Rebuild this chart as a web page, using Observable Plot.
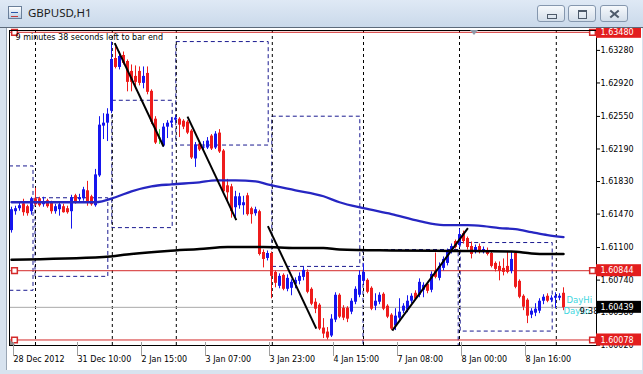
<!DOCTYPE html>
<html><head><meta charset="utf-8">
<script src="https://cdn.jsdelivr.net/npm/d3@7"></script>
<script src="https://cdn.jsdelivr.net/npm/@observablehq/plot@0.6"></script>
<style>
html,body{margin:0;padding:0;}
body{width:643px;height:374px;overflow:hidden;position:relative;background:#d8e3ef;}
#titlebar{position:absolute;left:0;top:0;width:643px;height:28px;background:linear-gradient(#dfe9f5,#cad9ea);z-index:5;border-bottom:1px solid #5c6a7a;box-sizing:border-box;}
#title{position:absolute;left:28px;top:5px;font:11.5px "Noto Sans",sans-serif;color:#1b1b1b;}
#icon{position:absolute;left:8px;top:6px;width:12px;height:11px;border:1px solid #6a7f99;background:linear-gradient(#ffffff,#b9cde4);}
#icon:after{content:"";position:absolute;left:2px;top:5px;width:7px;height:3px;border-top:1px solid #2b57a8;border-bottom:1px solid #c23a3a;}
.btn{position:absolute;top:5px;width:28px;height:17px;border:1px solid #8597ae;border-radius:3px;background:linear-gradient(#f6f9fc,#d3deea);box-sizing:border-box;}
#b1{left:537px}#b2{left:568px}#b3{left:600px}
#b1:after{content:"";position:absolute;left:9px;top:8px;width:8px;height:3px;border:1px solid #4d5a6a;}
#b2:after{content:"";position:absolute;left:9px;top:4px;width:7px;height:6px;border:1px solid #4d5a6a;border-top-width:2px;}
.x1,.x2{position:absolute;left:8px;top:7px;width:11px;height:2px;background:#4d5a6a;}
.x1{transform:rotate(40deg)}.x2{transform:rotate(-40deg)}
#client{position:absolute;left:6px;top:28px;width:635px;height:342px;background:#fff;border-left:1px solid #9aa6b4;}
#chart{position:absolute;left:0;top:0;z-index:2;}
#shift{position:absolute;left:470px;top:30px;width:0;height:0;border-left:4px solid transparent;border-right:4px solid transparent;border-top:5px solid #8e99a8;z-index:3;}
#corner{position:absolute;left:10px;top:340px;width:0;height:0;border-left:5px solid #8e8e8e;border-top:5px solid transparent;z-index:3;}
</style></head>
<body>
<div id="titlebar"><div id="icon"></div><div id="title">GBPUSD,H1</div>
<div class="btn" id="b1"></div><div class="btn" id="b2"></div><div class="btn" id="b3"><div class="x1"></div><div class="x2"></div></div></div>
<div id="client"></div>
<div id="chart"></div>
<div id="shift"></div><div id="corner"></div>
<script>
// ---- OHLC data (hourly bars, index 0 = 28 Dec 2012 18:00) ----
const open = [
1.61282,1.61491,1.61524,1.61579,1.61546,1.61491,1.61634,1.61634,1.61568,1.61612,
1.61590,1.61491,1.61513,1.61546,1.61524,1.61491,1.61667,1.61623,1.61634,1.61722,
1.61656,1.61557,1.61887,1.62437,1.62470,1.62602,1.63185,1.63086,1.63218,1.63152,
1.63042,1.62987,1.63042,1.62910,1.63020,1.62822,1.62514,1.62305,1.62217,1.62426,
1.62470,1.62503,1.62514,1.62492,1.62481,1.62382,1.62074,1.62239,1.62195,1.62195,
1.62327,1.62195,1.62360,1.62162,1.61777,1.61766,1.61535,1.61557,1.61557,1.61667,
1.61524,1.61469,1.61491,1.61040,1.60974,1.61029,1.60820,1.60666,1.60787,1.60633,
1.60644,1.60688,1.60721,1.60765,1.60820,1.60633,1.60490,1.60457,1.60204,1.60160,
1.60116,1.60292,1.60567,1.60424,1.60424,1.60380,1.60490,1.60567,1.60721,1.60732,
1.60644,1.60446,1.60490,1.60578,1.60446,1.60347,1.60226,1.60314,1.60391,1.60402,
1.60501,1.60589,1.60567,1.60622,1.60688,1.60622,1.60831,1.60754,1.60864,1.60919,
1.61051,1.61161,1.61117,1.61249,1.61194,1.61106,1.61051,1.61106,1.61051,1.61062,
1.61029,1.60919,1.60886,1.60864,1.60886,1.60831,1.61029,1.60721,1.60556,1.60512,
1.60347,1.60369,1.60391,1.60501,1.60556,1.60512,1.60534,1.60534,1.60589];
const high = [
1.61546,1.61557,1.61601,1.61634,1.61568,1.61656,1.61755,1.61656,1.61656,1.61634,
1.61612,1.61579,1.61601,1.61579,1.61557,1.61678,1.61689,1.61689,1.61766,1.61832,
1.61678,1.61964,1.62547,1.62580,1.62635,1.63372,1.63317,1.63262,1.63262,1.63174,
1.63119,1.63108,1.63097,1.63097,1.63097,1.62844,1.62547,1.62404,1.62470,1.62503,
1.62536,1.62558,1.62536,1.62514,1.62503,1.62404,1.62261,1.62261,1.62272,1.62316,
1.62349,1.62382,1.62404,1.62184,1.61854,1.61799,1.61722,1.61700,1.61667,1.61700,
1.61546,1.61546,1.61513,1.61073,1.61062,1.61051,1.60842,1.60809,1.60809,1.60798,
1.60743,1.60765,1.60820,1.60886,1.60853,1.60655,1.60534,1.60479,1.60314,1.60215,
1.60358,1.60600,1.60589,1.60457,1.60446,1.60534,1.60666,1.60842,1.60919,1.60754,
1.60666,1.60589,1.60600,1.60600,1.60468,1.60369,1.60424,1.60534,1.60479,1.60567,
1.60589,1.60622,1.60754,1.60710,1.60710,1.60831,1.61040,1.60930,1.60996,1.61084,
1.61139,1.61183,1.61304,1.61282,1.61216,1.61161,1.61128,1.61139,1.61106,1.61095,
1.61051,1.60941,1.60941,1.60974,1.61051,1.61051,1.61051,1.60743,1.60578,1.60534,
1.60424,1.60479,1.60534,1.60578,1.60589,1.60567,1.60600,1.60589,1.60655];
const low = [
1.61260,1.61458,1.61502,1.61447,1.61447,1.61458,1.61557,1.61546,1.61546,1.61535,
1.61469,1.61469,1.61447,1.61480,1.61469,1.61304,1.61579,1.61601,1.61612,1.61557,
1.61557,1.61546,1.61876,1.62294,1.62272,1.62580,1.63075,1.63064,1.63119,1.62822,
1.62822,1.62855,1.62888,1.62855,1.62789,1.62459,1.62239,1.62239,1.62206,1.62305,
1.62426,1.62481,1.62316,1.62404,1.62349,1.62074,1.61986,1.62162,1.62173,1.62184,
1.62173,1.62184,1.62140,1.61700,1.61612,1.61425,1.61414,1.61524,1.61458,1.61447,
1.61359,1.61447,1.61007,1.60875,1.60952,1.60534,1.60655,1.60644,1.60622,1.60611,
1.60567,1.60644,1.60688,1.60732,1.60589,1.60457,1.60369,1.60182,1.60094,1.60078,
1.60105,1.60270,1.60314,1.60292,1.60270,1.60358,1.60468,1.60545,1.60688,1.60589,
1.60402,1.60402,1.60468,1.60402,1.60314,1.60182,1.60182,1.60292,1.60369,1.60380,
1.60479,1.60512,1.60545,1.60545,1.60589,1.60600,1.60754,1.60732,1.60842,1.60897,
1.61029,1.61084,1.61095,1.61139,1.61073,1.60974,1.61029,1.61029,1.61029,1.61007,
1.60875,1.60831,1.60732,1.60787,1.60809,1.60809,1.60644,1.60534,1.60402,1.60259,
1.60314,1.60336,1.60369,1.60468,1.60490,1.60490,1.60424,1.60512,1.60402];
const close = [
1.61524,1.61535,1.61568,1.61491,1.61480,1.61645,1.61579,1.61568,1.61612,1.61557,
1.61502,1.61557,1.61579,1.61491,1.61491,1.61656,1.61601,1.61656,1.61744,1.61601,
1.61579,1.61909,1.62459,1.62481,1.62580,1.63185,1.63097,1.63218,1.63141,1.62932,
1.62932,1.62932,1.62921,1.62998,1.62822,1.62492,1.62261,1.62305,1.62437,1.62481,
1.62503,1.62536,1.62459,1.62437,1.62371,1.62096,1.62239,1.62184,1.62217,1.62283,
1.62195,1.62360,1.62162,1.61722,1.61711,1.61502,1.61667,1.61667,1.61601,1.61469,
1.61469,1.61524,1.61029,1.60974,1.61040,1.60787,1.60710,1.60787,1.60644,1.60765,
1.60721,1.60743,1.60787,1.60853,1.60611,1.60479,1.60424,1.60204,1.60149,1.60105,
1.60314,1.60578,1.60336,1.60325,1.60314,1.60512,1.60644,1.60798,1.60831,1.60611,
1.60424,1.60512,1.60578,1.60424,1.60336,1.60204,1.60347,1.60391,1.60457,1.60512,
1.60567,1.60534,1.60721,1.60688,1.60622,1.60809,1.60776,1.60897,1.60974,1.61062,
1.61117,1.61106,1.61249,1.61172,1.61106,1.61029,1.61106,1.61051,1.61084,1.61029,
1.60897,1.60864,1.60842,1.60831,1.60831,1.60974,1.60666,1.60556,1.60446,1.60347,
1.60402,1.60424,1.60512,1.60556,1.60512,1.60545,1.60567,1.60567,1.60439];

// ---- moving averages (sampled at bar indices) ----
const maBlueIdx = [0,21,26,30,35,40,47,51,56,61,64,71,78,82,88,95,102,108,114,118,122,126,130,134,138];
const maBlueVal = [1.61601,1.61601,1.61656,1.61722,1.61777,1.61799,1.61821,1.61843,1.61843,1.61832,1.61799,1.61733,1.61667,1.61601,1.61535,1.61469,1.61392,1.61348,1.61348,1.61337,1.61315,1.61304,1.61271,1.61238,1.61216];
const maBlackIdx = [0,23,30,39,47,54,63,71,78,82,95,110,125,130,134,138];
const maBlackVal = [1.60966,1.60995,1.61029,1.61062,1.61084,1.61106,1.61106,1.61095,1.61095,1.61079,1.61068,1.61062,1.61057,1.61035,1.61029,1.61029];

// ---- trend lines ----
const trendX1 = [25.8, 44, 64.1, 95.2];
const trendY1 = [1.63361, 1.62547, 1.61337, 1.60182];
const trendX2 = [38, 56.2, 76.2, 114.1];
const trendY2 = [1.62217, 1.61403, 1.60204, 1.61315];

// ---- day boxes ----
const boxX1 = [-0.5, 6, 25.2, 41.2, 65.2, 88, 112.3];
const boxX2 = [5.5, 24.2, 40.3, 64.3, 87.2, 111.8, 135.3];
const boxTop = [1.61997, 1.61645, 1.62723, 1.63372, 1.62547, 1.61073, 1.61150];
const boxBot = [1.60622, 1.60776, 1.61315, 1.62228, 1.60886, 1.59940, 1.60171];

// ---- period separators ----
const sepIdx = [6, 25.2, 41.2, 65.2, 88, 112, 136.2];

// ---- levels ----
const redLevels = [1.63480, 1.60844, 1.60078];
const bidLevel = 1.60439;

// ---- axes ----
const yTicks = [1.63280,1.62920,1.62550,1.62190,1.61830,1.61470,1.61100,1.60740,1.60380,1.60020];
const xTickIdx = [0,16,32,48,64,80,96,112,128];
const xTickLabels = ["28 Dec 2012","31 Dec 10:00","2 Jan 15:00","3 Jan 07:00","3 Jan 23:00","4 Jan 15:00","7 Jan 08:00","8 Jan 00:00","8 Jan 16:00"];

// ---- texts ----
const timerText = "9 minutes 38 seconds left to bar end";
const sideText = ["DayHi","DayLo","9:38"];
const sideIdx = [138.75, 138, 142];
const sidePrice = [1.60515, 1.60393, 1.60393];
const sideColor = ["#3fd6e0","#3fd6e0","#000000"];

const UP="#1616ee", DOWN="#ee1c1c", FLAT="#44dd44";
const bars = open.map((o,i)=>({i, open:o, high:high[i], low:low[i], close:close[i],
  c: close[i]>o?UP:(close[i]<o?DOWN:FLAT)}));
const maBlue = maBlueIdx.map((x,k)=>({x, y:maBlueVal[k]}));
const maBlack = maBlackIdx.map((x,k)=>({x, y:maBlackVal[k]}));
const trends = trendX1.map((x,k)=>({x1:x, y1:trendY1[k], x2:trendX2[k], y2:trendY2[k]}));
const boxes = boxX1.map((x,k)=>({x1:x, x2:boxX2[k], y1:boxTop[k], y2:boxBot[k]}));
const tickMap = new Map(xTickIdx.map((d,k)=>[d, xTickLabels[k]]));
const priceLabels = [
  {v:redLevels[0], c:"#e31e1e"},{v:redLevels[1], c:"#e31e1e"},
  {v:bidLevel, c:"#000000"},{v:redLevels[2], c:"#e31e1e"}];
const side = sideText.map((t,k)=>({t, x:sideIdx[k], y:sidePrice[k], c:sideColor[k]}));
const xHi = 146.25;
const FONT = "DejaVu Sans";

const chart = Plot.plot({
  width: 643, height: 374,
  marginTop: 30, marginBottom: 29, marginLeft: 9, marginRight: 47,
  style: {background: "transparent", fontFamily: FONT, fontSize: "8px", color: "#000", overflow: "visible"},
  x: {domain: [-0.5, xHi], label: null},
  y: {domain: [1.60017, 1.63500], label: null},
  color: {type: "identity"},
  marks: [
    Plot.rect(boxes, {x1:"x1", x2:"x2", y1:"y1", y2:"y2", fill:"none", stroke:"#1a1a90", strokeDasharray:"4,3", clip:true}),
    Plot.ruleX(sepIdx, {stroke:"#000", strokeDasharray:"3,3"}),
    Plot.ruleY(redLevels, {stroke:"#d42a2a"}),
    Plot.ruleY([bidLevel], {stroke:"#a9a9a9"}),
    Plot.ruleX(bars, {x:"i", y1:"low", y2:"high", stroke:"c"}),
    Plot.ruleX(bars, {x:"i", y1:"open", y2:"close", stroke:"c", strokeWidth:3, insetTop:-0.5, insetBottom:-0.5}),
    Plot.line(maBlack, {x:"x", y:"y", stroke:"#000", strokeWidth:2.5, curve:"monotone-x"}),
    Plot.line(maBlue, {x:"x", y:"y", stroke:"#2626c2", strokeWidth:2.3, curve:"monotone-x"}),
    Plot.link(trends, {x1:"x1", y1:"y1", x2:"x2", y2:"y2", stroke:"#000", strokeWidth:2}),
    Plot.dot(redLevels, {y:d=>d, frameAnchor:"left", dx:5, symbol:"square", r:3.2, stroke:"#d42a2a", fill:"#fff"}),
    Plot.dot(redLevels, {y:d=>d, frameAnchor:"right", dx:-4, symbol:"square", r:3.2, stroke:"#d42a2a", fill:"#fff"}),
    Plot.frame({stroke:"#000"}),
    Plot.text([timerText], {text:d=>d, frameAnchor:"top-left", dx:6, dy:4, lineAnchor:"top", textAnchor:"start", fill:"#000", fontSize:8}),
    Plot.text(side, {x:"x", y:"y", text:"t", fill:"c", textAnchor:"start", fontSize:8.5}),
    Plot.axisY(yTicks, {anchor:"right", tickSize:3, tickPadding:1, tickFormat:d=>d.toFixed(5), fontSize:8, label:null}),
    Plot.rect(priceLabels, {x1:()=>xHi, x2:()=>xHi, y1:"v", y2:"v", insetRight:-45, insetTop:-6, insetBottom:-6, fill:"c"}),
    Plot.text(priceLabels, {y:"v", text:d=>d.v.toFixed(5), frameAnchor:"right", dx:4, textAnchor:"start", fill:"#fff", fontSize:8}),
    Plot.axisX(xTickIdx, {anchor:"bottom", tickSize:14, tickPadding:0, dy:-3, dx:2, textAnchor:"start", stroke:"#a0a0a0", fill:"#000", tickFormat:d=>tickMap.get(d), fontSize:8, label:null})
  ]
});
document.getElementById("chart").appendChild(chart);
</script>
</body></html>
